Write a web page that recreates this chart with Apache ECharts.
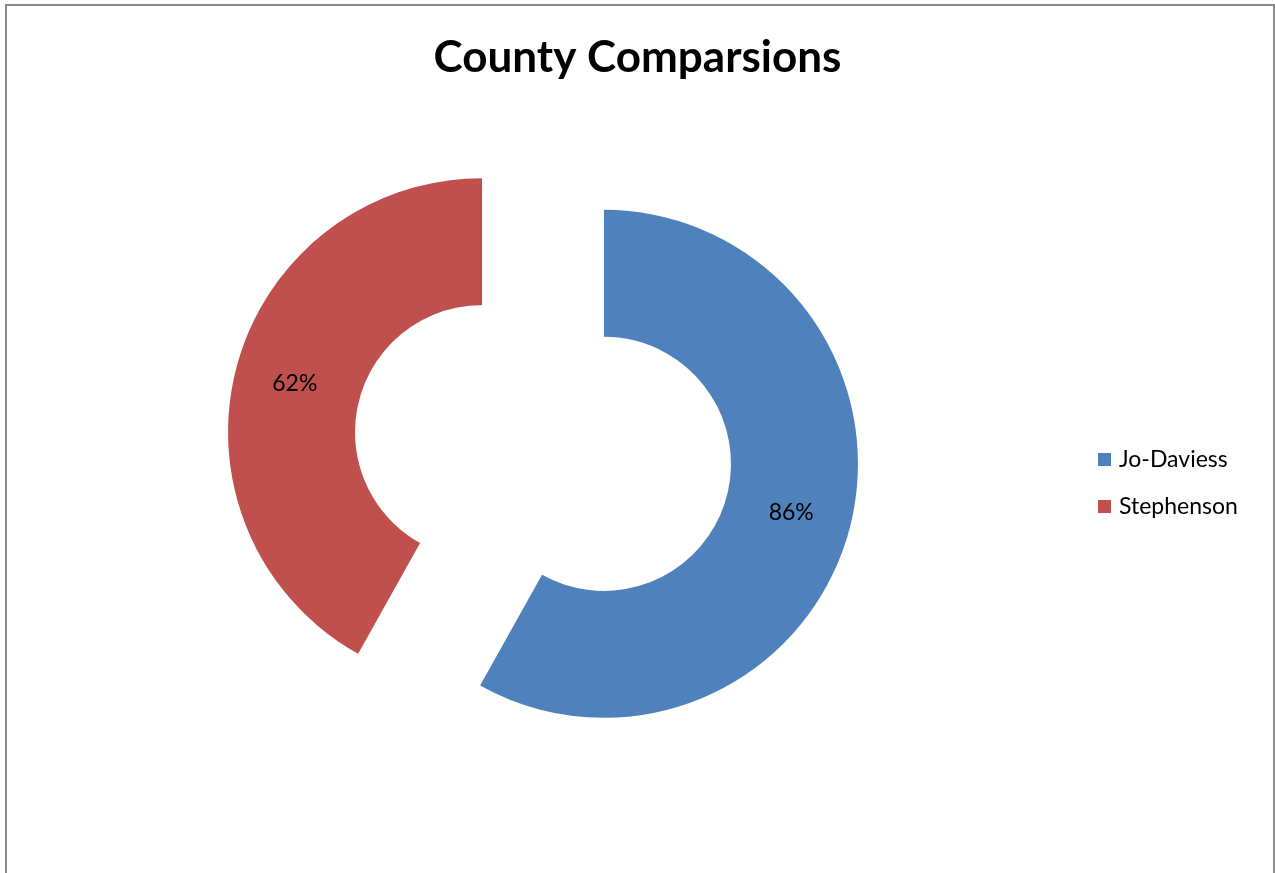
<!DOCTYPE html>
<html>
<head>
<meta charset="utf-8">
<style>
html,body{margin:0;padding:0;background:#fff;}
#chart{width:1275px;height:873px;}
</style>
<script src="https://cdn.jsdelivr.net/npm/echarts@6/dist/echarts.min.js"></script>
</head>
<body>
<div id="chart"></div>
<script>
const titleText = 'County Comparsions';
const categories = ['Jo-Daviess', 'Stephenson'];
const values = [86, 62];
const colors = ['#4F81BD', '#C0504D'];

const chart = echarts.init(document.getElementById('chart'), null, {renderer: 'canvas'});
const FONT = 'Lato, "Open Sans", sans-serif';

chart.setOption({
  animation: false,
  backgroundColor: '#fff',
  graphic: [{
    type: 'rect',
    shape: {x: 6, y: 5, width: 1268, height: 900},
    style: {fill: 'none', stroke: '#8a8a8a', lineWidth: 2},
    silent: true
  }],
  title: {
    text: titleText,
    left: 'center',
    top: 31,
    textStyle: {fontFamily: FONT, fontWeight: 'bold', fontSize: 44, color: '#000'}
  },
  legend: {
    orient: 'vertical',
    left: 1098,
    top: 448,
    padding: 0,
    icon: 'rect',
    itemWidth: 13,
    itemHeight: 13,
    itemGap: 24,
    selectedMode: false,
    data: categories,
    textStyle: {fontFamily: FONT, fontSize: 23, color: '#000', lineHeight: 23, padding: [0, 0, 0, 3]}
  },
  series: [{
    type: 'pie',
    center: [543, 448],
    radius: [127, 254],
    startAngle: 90,
    clockwise: true,
    selectedMode: 'multiple',
    selectedOffset: 63,
    avoidLabelOverlap: false,
    emphasis: {disabled: true},
    label: {
      show: true,
      position: 'inside',
      formatter: p => p.value + '%',
      fontFamily: FONT,
      fontSize: 23,
      color: '#000'
    },
    labelLine: {show: false},
    itemStyle: {borderWidth: 0},
    data: categories.map((c, i) => ({
      name: c,
      value: values[i],
      selected: true,
      itemStyle: {color: colors[i]}
    }))
  }]
});
</script>
</body>
</html>
